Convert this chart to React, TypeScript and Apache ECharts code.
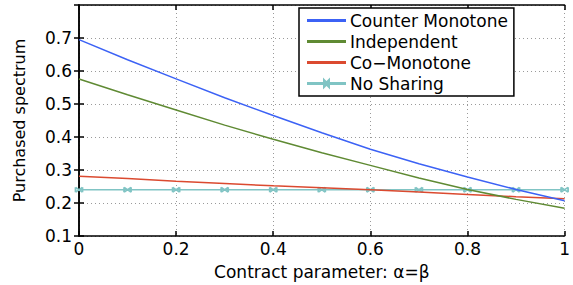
import React, { useEffect, useRef } from "react";
import * as echarts from "echarts";

const xValues = [0, 0.1, 0.2, 0.3, 0.4, 0.5, 0.6, 0.7, 0.8, 0.9, 1.0];
const counterMonotone = [0.695, 0.634, 0.576, 0.519, 0.465, 0.413, 0.363, 0.319, 0.279, 0.241, 0.207];
const independent = [0.576, 0.528, 0.482, 0.436, 0.393, 0.352, 0.314, 0.276, 0.241, 0.211, 0.184];
const coMonotone = [0.281, 0.274, 0.266, 0.259, 0.252, 0.246, 0.24, 0.233, 0.226, 0.219, 0.213];
const noSharing = [0.24, 0.24, 0.24, 0.24, 0.24, 0.24, 0.24, 0.24, 0.24, 0.24, 0.24];
const seriesNames = ["Counter Monotone", "Independent", "Co\u2212Monotone", "No Sharing"];
const seriesColors = ["#3c62f5", "#5f8a33", "#db4a30", "#80c4c4"];

const FONT = "DejaVu Sans";

function pairs(ys: number[]) {
  return xValues.map((x, i) => [x, ys[i]]);
}

export default function App() {
  const ref = useRef<HTMLDivElement>(null);
  useEffect(() => {
    if (!ref.current) return;
    const chart = echarts.init(ref.current, null, { renderer: "svg" });
    const axisLine = { show: true, lineStyle: { color: "#000", width: 1.5 } };
    const split = { show: true, lineStyle: { color: "#9a9a9a", type: [1, 3] as any, width: 1 } };
    const tick = { show: true, inside: true, length: 5, lineStyle: { color: "#000", width: 1.5 } };
    const series = [counterMonotone, independent, coMonotone, noSharing].map((d, i) => ({
      name: seriesNames[i],
      type: "line",
      data: pairs(d),
      showSymbol: i === 3,
      symbol: i === 3 ? "path://M0,0L10,10M10,0L0,10M0,0L0,10M10,0L10,10" : "none",
      symbolSize: [7, 5],
      itemStyle: { color: seriesColors[i], borderColor: seriesColors[i], borderWidth: 1.5 },
      lineStyle: { color: seriesColors[i], width: 1.5 },
      z: 10 - i,
    }));
    const lineIcon = "path://M0,4L37,4L37,5L0,5Z";
    const markIcon = "path://M0,4L37,4L37,5L0,5Z M16,1L18.5,3.5L21,1L21,8L18.5,5.5L16,8Z";
    chart.setOption({
      animation: false,
      backgroundColor: "#fff",
      textStyle: { fontFamily: FONT, color: "#000" },
      grid: { left: 79, right: 1, top: 5, bottom: 45 },
      legend: {
        orient: "vertical",
        left: 299,
        top: 8,
        padding: [4, 6, 4, 8],
        itemGap: 4,
        itemWidth: 37,
        itemHeight: 8,
        backgroundColor: "#fff",
        borderColor: "#000",
        borderWidth: 1.5,
        borderRadius: 0,
        data: seriesNames.map((n, i) => ({ name: n, icon: i === 3 ? markIcon : lineIcon })),
        textStyle: { fontFamily: FONT, fontSize: 17, color: "#000", width: 210, padding: [0, 0, 0, 0] },
      },
      xAxis: [
        {
          type: "value",
          min: 0,
          max: 1,
          interval: 0.2,
          name: "Contract parameter: \u03b1=\u03b2",
          nameLocation: "middle",
          nameGap: 27,
          nameTextStyle: { fontFamily: FONT, fontSize: 17, color: "#000" },
          axisLine,
          axisTick: tick,
          axisLabel: { fontFamily: FONT, fontSize: 17, color: "#000", margin: 4 },
          splitLine: split,
        },
        {
          type: "value",
          position: "top",
          min: 0,
          max: 1,
          interval: 0.2,
          axisLine,
          axisTick: tick,
          axisLabel: { show: false },
          splitLine: { show: false },
        },
      ],
      yAxis: [
        {
          type: "value",
          min: 0.1,
          max: 0.8,
          interval: 0.1,
          name: "Purchased spectrum",
          nameLocation: "middle",
          nameGap: 52,
          nameTextStyle: { fontFamily: FONT, fontSize: 16, color: "#000" },
          axisLine,
          axisTick: tick,
          axisLabel: {
            fontFamily: FONT,
            fontSize: 17,
            color: "#000",
            margin: 7,
            showMaxLabel: false,
            formatter: (v: number) => v.toFixed(1),
          },
          splitLine: split,
        },
        {
          type: "value",
          position: "right",
          min: 0.1,
          max: 0.8,
          interval: 0.1,
          axisLine,
          axisTick: tick,
          axisLabel: { show: false },
          splitLine: { show: false },
        },
      ],
      series,
    });
    return () => chart.dispose();
  }, []);
  return (
    <div
      ref={ref}
      style={{ position: "absolute", left: 0, top: 0, width: 573, height: 285, background: "#fff" }}
    />
  );
}
